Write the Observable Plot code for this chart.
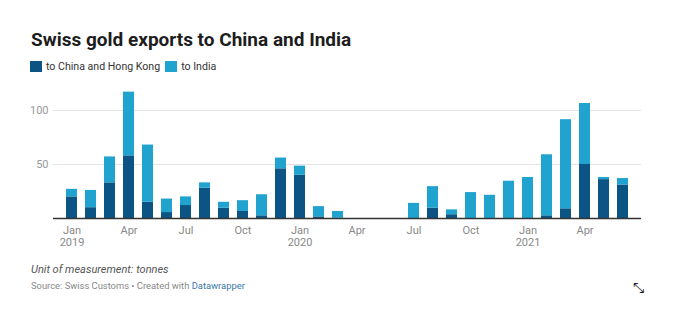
<!DOCTYPE html>
<html>
<head>
<meta charset="utf-8">
<script src="https://cdn.jsdelivr.net/npm/d3@7"></script>
<script src="https://cdn.jsdelivr.net/npm/@observablehq/plot@0.6"></script>
<style>
  html, body { margin: 0; padding: 0; background: #fff; width: 679px; height: 326px; overflow: hidden; font-family: Roboto, "Noto Sans", sans-serif; }
  .abs { position: absolute; white-space: nowrap; }
  #title { left: 31px; top: 28px; font-size: 19px; font-weight: 700; color: #1d1d1d; }
  #legend { left: 30px; top: 60px; font-size: 10.6px; color: #333; display: flex; align-items: center; }
  .sw { display: inline-block; width: 12px; height: 11px; margin-right: 4px; }
  .item { display: flex; align-items: center; margin-right: 5px; }
  #chart { left: 0; top: 85px; }
  #unit { left: 31px; top: 263px; font-size: 11px; font-style: italic; color: #555; }
  #source { left: 31px; top: 280px; font-size: 9.4px; color: #888; }
  #source span { color: #3b78ab; }
  #icon { left: 633px; top: 280px; font-size: 14px; color: #222; }
</style>
</head>
<body>
<div id="title" class="abs">Swiss gold exports to China and India</div>
<div id="legend" class="abs"></div>
<div id="chart" class="abs"></div>
<div id="unit" class="abs">Unit of measurement: tonnes</div>
<div id="source" class="abs">Source: Swiss Customs • Created with <span>Datawrapper</span></div>
<div id="icon" class="abs">⤡</div>
<script>
const months = ["2019-01","2019-02","2019-03","2019-04","2019-05","2019-06","2019-07","2019-08","2019-09","2019-10","2019-11","2019-12",
  "2020-01","2020-02","2020-03","2020-04","2020-05","2020-06","2020-07","2020-08","2020-09","2020-10","2020-11","2020-12",
  "2021-01","2021-02","2021-03","2021-04","2021-05","2021-06"];
const china = [20, 10, 33, 58, 15, 5.5, 12, 28, 9.5, 6.5, 2.5, 46,
  40, 1.5, 0.3, 0, 0, 0, 0, 9.5, 3.5, 0, 0, 0,
  0, 2.5, 9, 50, 36, 31];
const india = [7, 16, 24, 59, 53, 12.5, 8, 5, 5.5, 10, 19.5, 10,
  8.5, 9.5, 6.2, 0, 0, 0, 14, 20, 4.5, 24, 21.5, 34.5,
  38, 56.5, 82.5, 56.5, 2, 6];
const seriesNames = ["to China and Hong Kong", "to India"];
const seriesColors = ["#0b5483", "#21a3d0"];
const yTicks = [50, 100];
const monthNames = ["Jan","Feb","Mar","Apr","May","Jun","Jul","Aug","Sep","Oct","Nov","Dec"];
const xTickMonths = months.filter(m => [1,4,7,10].includes(+m.slice(5)));

const rows = [];
months.forEach((m, i) => {
  rows.push({month: m, series: seriesNames[0], value: china[i]});
  rows.push({month: m, series: seriesNames[1], value: india[i]});
});

const legend = document.getElementById("legend");
seriesNames.forEach((n, i) => {
  const it = document.createElement("div");
  it.className = "item";
  it.innerHTML = `<span class="sw" style="background:${seriesColors[i]}"></span>${n}`;
  legend.appendChild(it);
});

const fmt = m => {
  const mo = +m.slice(5);
  const name = monthNames[mo - 1];
  return mo === 1 ? name + "\n" + m.slice(0, 4) : name;
};

const chart = Plot.plot({
  width: 679,
  height: 175,
  marginLeft: 53,
  marginRight: 38,
  marginTop: 25,
  marginBottom: 42,
  style: {fontFamily: "Roboto, sans-serif", fontSize: "11px", background: "transparent", overflow: "visible"},
  x: {type: "band", domain: months, padding: 0.4, align: 0.5, label: null},
  y: {domain: [0, 100], range: [133, 25], label: null},
  color: {domain: seriesNames, range: seriesColors},
  marks: [
    Plot.gridY(yTicks, {stroke: "#e3e3e3", strokeOpacity: 1}),
    Plot.barY(rows, {x: "month", y: "value", fill: "series", order: seriesNames}),
    Plot.ruleY([0], {stroke: "#333", strokeWidth: 1.3}),
    Plot.axisY(yTicks, {tickSize: 0, tickPadding: 5, fill: "#999", fontSize: 11, label: null}),
    Plot.axisX(xTickMonths, {tickSize: 0, tickPadding: 7, tickFormat: fmt, fill: "#888", fontSize: 11, lineHeight: 1.1, label: null})
  ]
});
document.getElementById("chart").appendChild(chart);
</script>
</body>
</html>
